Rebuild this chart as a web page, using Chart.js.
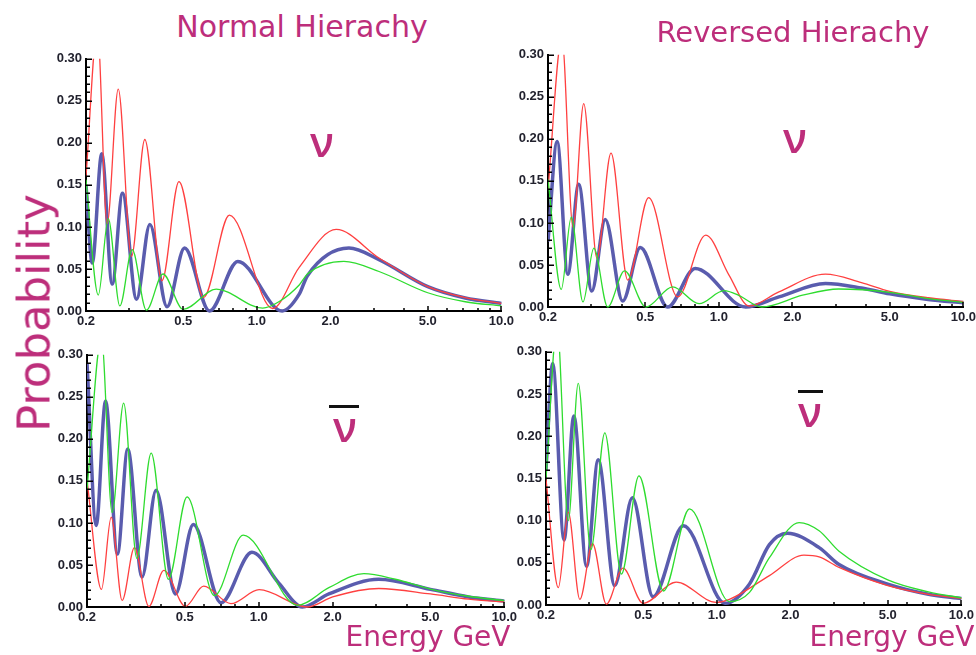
<!DOCTYPE html>
<html>
<head>
<meta charset="utf-8">
<script src="https://cdn.jsdelivr.net/npm/chart.js@4.4.1/dist/chart.umd.min.js"></script>
<style>
html, body { margin: 0; padding: 0; background: #fff; }
body { width: 976px; height: 655px; overflow: hidden; position: relative; font-family: 'DejaVu Sans', sans-serif; }
canvas { position: absolute; }
.lbl { position: absolute; color: #bd2e7b; line-height: 1; white-space: nowrap; }
.nu { font-family: 'Open Sans', sans-serif; font-weight: 600; }
.bar { position: absolute; background: #111; height: 3px; }
</style>
</head>
<body>
<canvas id="tl"></canvas>
<canvas id="tr"></canvas>
<canvas id="bl"></canvas>
<canvas id="br"></canvas>
<script>
// ---- axes ----
const xTickLabels = [0.2, 0.5, 1, 2, 5, 10];
const xMinorTicks = [0.3, 0.4, 0.6, 0.7, 0.8, 0.9, 3, 4, 6, 7, 8, 9];
const yMin = 0, yMax = 0.30, yStep = 0.05, yMinorStep = 0.01;

// ---- Normal hierarchy, neutrino (top left) ----
const nhNuRedE   = [0.2, 0.2226, 0.244, 0.271, 0.307, 0.348, 0.409, 0.480, 0.605, 0.772, 1.16, 1.49, 2.11, 3.16, 5.0, 7.12, 10];
const nhNuRedP   = [0.16, 0.335, 0.104, 0.264, 0.065, 0.204, 0.036, 0.154, 0.016, 0.114, 0.003, 0.052, 0.097, 0.063, 0.029, 0.016, 0.009];
const nhNuBlueE  = [0.2, 0.212, 0.232, 0.256, 0.282, 0.322, 0.365, 0.429, 0.506, 0.640, 0.836, 1.27, 1.49, 1.61, 2.38, 3.16, 5.0, 7.12, 10];
const nhNuBlueP  = [0.15, 0.057, 0.187, 0.032, 0.140, 0.014, 0.103, 0.005, 0.075, 0.0, 0.059, 0.0, 0.02, 0.042, 0.0748, 0.061, 0.029, 0.0155, 0.009];
const nhNuGreenE = [0.2, 0.2246, 0.2466, 0.275, 0.309, 0.353, 0.413, 0.499, 0.682, 1.056, 1.23, 1.49, 1.61, 2.27, 3.16, 5.0, 7.12, 10];
const nhNuGreenP = [0.156, 0.019, 0.110, 0.006, 0.073, 0.001, 0.044, 0.002, 0.026, 0.0035, 0.011, 0.031, 0.044, 0.059, 0.047, 0.0217, 0.011, 0.006];

// ---- Reversed hierarchy, neutrino (top right) ----
const rhNuRedE   = [0.2, 0.228, 0.253, 0.280, 0.317, 0.362, 0.424, 0.516, 0.678, 0.884, 1.10, 1.33, 1.76, 2.73, 3.83, 5.0, 7.18, 10];
const rhNuRedP   = [0.14, 0.32, 0.095, 0.242, 0.058, 0.183, 0.032, 0.130, 0.012, 0.0855, 0.038, 0.001, 0.018, 0.039, 0.029, 0.0187, 0.011, 0.0066];
const rhNuBlueE  = [0.2, 0.218, 0.241, 0.267, 0.302, 0.343, 0.404, 0.477, 0.617, 0.800, 1.287, 1.76, 2.73, 3.83, 5.0, 7.18, 10];
const rhNuBlueP  = [0.078, 0.197, 0.039, 0.146, 0.019, 0.104, 0.007, 0.0707, 0.0, 0.0459, 0.0, 0.012, 0.028, 0.0226, 0.0156, 0.009, 0.005];
const rhNuGreenE = [0.2, 0.2266, 0.249, 0.278, 0.308, 0.351, 0.411, 0.503, 0.647, 0.830, 1.05, 1.21, 1.50, 2.2, 3.09, 5.0, 7.18, 10];
const rhNuGreenP = [0.152, 0.021, 0.107, 0.006, 0.070, 0.0, 0.043, 0.0, 0.024, 0.004, 0.0194, 0.0136, 0.0, 0.014, 0.0214, 0.0175, 0.010, 0.0055];

// ---- Normal hierarchy, antineutrino (bottom left) ----
const nhAntiRedE   = [0.2, 0.229, 0.251, 0.278, 0.312, 0.357, 0.411, 0.503, 0.597, 0.771, 1.004, 1.577, 2.0, 3.08, 5.0, 7.15, 10];
const nhAntiRedP   = [0.151, 0.021, 0.107, 0.0078, 0.0706, 0.0008, 0.0435, 0.0008, 0.0248, 0.004, 0.0206, 0.0, 0.012, 0.022, 0.0155, 0.0093, 0.006];
const nhAntiBlueE  = [0.2, 0.218, 0.238, 0.266, 0.293, 0.335, 0.382, 0.458, 0.542, 0.702, 0.938, 1.21, 1.505, 1.93, 3.08, 5.0, 7.15, 10];
const nhAntiBlueP  = [0.29, 0.097, 0.245, 0.063, 0.188, 0.0357, 0.139, 0.0155, 0.098, 0.005, 0.065, 0.028, 0.0, 0.0155, 0.033, 0.021, 0.012, 0.007];
const nhAntiGreenE = [0.2, 0.229, 0.253, 0.282, 0.319, 0.365, 0.429, 0.511, 0.660, 0.865, 1.44, 1.93, 2.68, 3.60, 5.0, 7.15, 10];
const nhAntiGreenP = [0.14, 0.32, 0.1125, 0.2425, 0.058, 0.183, 0.033, 0.131, 0.0136, 0.0854, 0.002, 0.023, 0.0396, 0.033, 0.0214, 0.0128, 0.0076];

// ---- Reversed hierarchy, antineutrino (bottom right) ----
const rhAntiRedE   = [0.2, 0.2246, 0.2466, 0.275, 0.310, 0.353, 0.413, 0.499, 0.682, 0.993, 1.125, 1.64, 2.27, 2.62, 3.16, 5.0, 7.34, 10];
const rhAntiRedP   = [0.149, 0.0205, 0.110, 0.0066, 0.0726, 0.001, 0.0436, 0.002, 0.027, 0.003, 0.0066, 0.0348, 0.059, 0.057, 0.0445, 0.023, 0.0127, 0.0077];
const rhAntiBlueE  = [0.2, 0.213, 0.237, 0.260, 0.293, 0.327, 0.382, 0.451, 0.548, 0.730, 1.08, 1.36, 1.64, 1.94, 2.62, 3.16, 5.0, 7.34, 10];
const rhAntiBlueP  = [0.16, 0.286, 0.077, 0.224, 0.046, 0.172, 0.023, 0.127, 0.0097, 0.094, 0.002, 0.025, 0.0715, 0.085, 0.068, 0.048, 0.0247, 0.0127, 0.0077];
const rhAntiGreenE = [0.2, 0.222, 0.2466, 0.271, 0.305, 0.348, 0.407, 0.480, 0.605, 0.773, 1.125, 1.36, 1.64, 2.17, 2.62, 3.16, 5.0, 7.34, 10];
const rhAntiGreenP = [0.149, 0.33, 0.100, 0.2625, 0.0656, 0.204, 0.0367, 0.153, 0.0166, 0.114, 0.004, 0.015, 0.056, 0.0977, 0.088, 0.0637, 0.0297, 0.0155, 0.0085];

const RED = '#ff4040', GREEN = '#2fdc2f', BLUE = '#5a5cae';
const tickFont = { family: "'Liberation Sans', sans-serif", size: 13, weight: 'bold' };

// tanda (ticks) ke dalam, gaya Mathematica
const insideTicks = {
    id: 'insideTicks',
    afterDraw(chart) {
        const { ctx, chartArea: a, scales: { x, y } } = chart;
        ctx.save();
        ctx.strokeStyle = '#000';
        ctx.lineWidth = 1.5;
        ctx.beginPath();
        const n = Math.round((yMax - yMin) / yMinorStep);
        for (let i = 0; i <= n; i++) {
            const py = Math.round(y.getPixelForValue(yMin + i * yMinorStep)) + 0.25;
            const len = (i % 5 === 0) ? 6 : 4;
            ctx.moveTo(a.left, py); ctx.lineTo(a.left + len, py);
        }
        xTickLabels.forEach(v => {
            const px = Math.round(x.getPixelForValue(v));
            ctx.moveTo(px, a.bottom); ctx.lineTo(px, a.bottom - 5);
        });
        xMinorTicks.forEach(v => {
            const px = Math.round(x.getPixelForValue(v));
            ctx.moveTo(px, a.bottom); ctx.lineTo(px, a.bottom - 3);
        });
        ctx.stroke();
        ctx.restore();
    }
};

function series(E, P, color, width) {
    return {
        data: E.map((e, i) => ({ x: e, y: P[i] })),
        borderColor: color,
        borderWidth: width,
        pointRadius: 0,
        fill: false,
        cubicInterpolationMode: 'monotone',
        clip: { left: 0, top: 0, right: 2, bottom: 3 }
    };
}

function makePanel(id, box, sets) {
    const [L, T, R, B] = box;
    const padTop = 6, padRight = 14, yW = 34, xH = 20;
    const cv = document.getElementById(id);
    cv.width = yW + (R - L) + padRight;
    cv.height = padTop + (B - T) + xH;
    cv.style.left = (L - yW) + 'px';
    cv.style.top = (T - padTop) + 'px';
    new Chart(cv, {
        type: 'line',
        data: { datasets: sets },
        options: {
            responsive: false,
            animation: false,
            devicePixelRatio: 1,
            layout: { padding: { top: padTop, right: padRight, left: 0, bottom: 0 }, autoPadding: false },
            plugins: { legend: { display: false }, tooltip: { enabled: false } },
            scales: {
                x: {
                    type: 'logarithmic', min: 0.2, max: 10,
                    afterBuildTicks: s => { s.ticks = xTickLabels.map(v => ({ value: v })); },
                    afterFit: s => { s.height = xH; },
                    ticks: { callback: v => Number(v).toFixed(1), font: tickFont, color: '#22222e', padding: 3, maxRotation: 0, autoSkip: false },
                    grid: { display: false, drawTicks: false },
                    border: { display: true, color: '#000', width: 2 }
                },
                y: {
                    min: yMin, max: yMax,
                    afterFit: s => { s.width = yW; },
                    ticks: { stepSize: yStep, callback: v => Number(v).toFixed(2), font: tickFont, color: '#22222e', padding: 4 },
                    grid: { display: false, drawTicks: false },
                    border: { display: true, color: '#000', width: 2 }
                }
            }
        },
        plugins: [insideTicks]
    });
}

makePanel('tl', [86, 53, 503, 311], [
    series(nhNuGreenE, nhNuGreenP, GREEN, 1.3),
    series(nhNuRedE, nhNuRedP, RED, 1.3),
    series(nhNuBlueE, nhNuBlueP, BLUE, 3.5)
]);
makePanel('tr', [548, 49, 965, 307], [
    series(rhNuGreenE, rhNuGreenP, GREEN, 1.3),
    series(rhNuRedE, rhNuRedP, RED, 1.3),
    series(rhNuBlueE, rhNuBlueP, BLUE, 3.5)
]);
makePanel('bl', [87, 349, 506, 607], [
    series(nhAntiGreenE, nhAntiGreenP, GREEN, 1.3),
    series(nhAntiRedE, nhAntiRedP, RED, 1.3),
    series(nhAntiBlueE, nhAntiBlueP, BLUE, 3.5)
]);
makePanel('br', [546, 346, 963, 605], [
    series(rhAntiGreenE, rhAntiGreenP, GREEN, 1.3),
    series(rhAntiRedE, rhAntiRedP, RED, 1.3),
    series(rhAntiBlueE, rhAntiBlueP, BLUE, 3.5)
]);

// ---- teks ----
function label(text, cx, baseline, size, cls) {
    const d = document.createElement('div');
    d.className = 'lbl' + (cls ? ' ' + cls : '');
    d.textContent = text;
    d.style.fontSize = size + 'px';
    d.style.left = cx + 'px';
    d.style.top = (baseline - (cls ? 0.885 : 0.846) * size) + 'px';
    d.style.transform = 'translateX(-50%)';
    document.body.appendChild(d);
    return d;
}
function bar(x1, x2, y) {
    const b = document.createElement('div');
    b.className = 'bar';
    b.style.left = x1 + 'px';
    b.style.width = (x2 - x1) + 'px';
    b.style.top = (y - 1.5) + 'px';
    document.body.appendChild(b);
}

label('Normal Hierachy', 302, 37, 30);
label('Reversed Hierachy', 793, 43, 29);
label('Energy GeV', 428, 647, 28);
label('Energy GeV', 892, 647, 28);
label('ν', 322, 157, 42, 'nu');
label('ν', 795, 153, 42, 'nu');
label('ν', 345, 442, 42, 'nu');
label('ν', 810, 427, 42, 'nu');
bar(329, 359, 406);
bar(798, 823, 391);

// Probability (vertical)
const prob = document.createElement('div');
prob.className = 'lbl';
prob.textContent = 'Probability';
prob.style.fontSize = '45px';
prob.style.left = '34px';
prob.style.top = '313px';
prob.style.transform = 'translate(-50%, -50%) rotate(-90deg)';
document.body.appendChild(prob);
</script>
</body>
</html>
